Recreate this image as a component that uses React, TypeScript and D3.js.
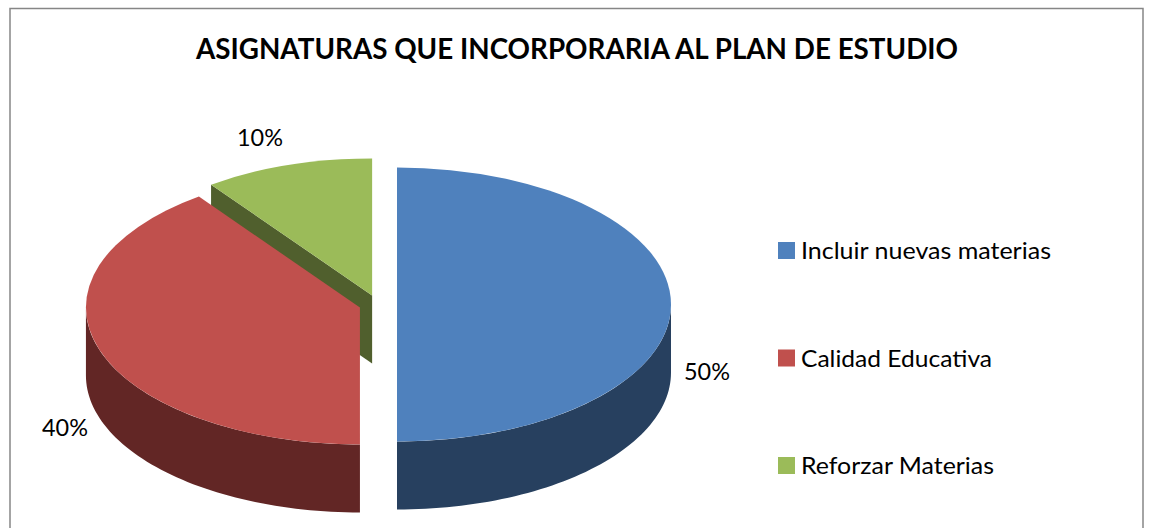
import React from "react";
import * as d3 from "d3";

const categories = ["Incluir nuevas materias", "Calidad Educativa", "Reforzar Materias"];
const values = [50, 40, 10];
const topColors = ["#4F81BD", "#C0504D", "#9BBB59"];
const sideColors = ["#27405F", "#622625", "#505F2D"];
const titleText = "ASIGNATURAS QUE INCORPORARIA AL PLAN DE ESTUDIO";

const W = 1151, H = 528;
const CX = 378, CY = 304.5, RX = 274, RY = 137, DEPTH = 68, EXPLODE = 19;
const FONT = "Lato, 'Open Sans', sans-serif";

const pie = d3.pie<number>().sort(null).value((d) => d);
const arcs = pie(values);
const arcGen = d3.arc<d3.PieArcDatum<number>>().innerRadius(0).outerRadius(RX);
const line = d3.line<[number, number]>();

const centre = (a: d3.PieArcDatum<number>): [number, number] => {
  const m = (a.startAngle + a.endAngle) / 2;
  return [CX + EXPLODE * Math.sin(m), CY - (EXPLODE * Math.cos(m) * RY) / RX];
};
const rim = (c: [number, number], t: number, dy = 0): [number, number] => [
  c[0] + RX * Math.sin(t),
  c[1] - RY * Math.cos(t) + dy,
];

// curved outer wall: only the part of the rim that faces the viewer
const wallPath = (a: d3.PieArcDatum<number>) => {
  const c = centre(a);
  const lo = Math.max(a.startAngle, Math.PI / 2);
  const hi = Math.min(a.endAngle, (3 * Math.PI) / 2);
  if (hi <= lo) return null;
  const ts = d3.range(0, 61).map((i) => lo + ((hi - lo) * i) / 60);
  const pts = [...ts.map((t) => rim(c, t)), ...ts.slice().reverse().map((t) => rim(c, t, DEPTH))];
  return line(pts) + "Z";
};

// flat cut face running from the apex to the rim at the slice's start angle
const cutPath = (a: d3.PieArcDatum<number>) => {
  const c = centre(a);
  const p = rim(c, a.startAngle);
  return line([c, p, [p[0], p[1] + DEPTH], [c[0], c[1] + DEPTH]]) + "Z";
};

const labelPos: [number, number][] = [[707, 380], [65, 436], [260, 146]];
const legendY = d3.scalePoint<string>().domain(categories).range([251, 466]);
const legendWidths = [250, 191, 193];

export default function App() {
  const order = [2, 1, 0];
  return (
    <svg width={W} height={H} style={{ position: "absolute", left: 0, top: 0, background: "#fff" }}>
      <path d="M10 528V8.5H1143V528" fill="none" stroke="#868686" strokeWidth={1.5} />
      <text x={577} y={59} textAnchor="middle" fontFamily={FONT} fontWeight={700} fontSize={28}
        textLength={762} lengthAdjust="spacingAndGlyphs" fill="#000">{titleText}</text>
      {order.map((i) => {
        const a = arcs[i];
        const c = centre(a);
        const wall = wallPath(a);
        return (
          <g key={categories[i]}>
            {i === 2 && <path d={cutPath(a)} fill={sideColors[i]} />}
            {wall && <path d={wall} fill={sideColors[i]} />}
            <path transform={`translate(${c[0]},${c[1]}) scale(1,${RY / RX})`} d={arcGen(a) as string} fill={topColors[i]} />
          </g>
        );
      })}
      {values.map((v, i) => (
        <text key={i} x={labelPos[i][0]} y={labelPos[i][1]} textAnchor="middle" fontFamily={FONT}
          fontSize={24} textLength={46} lengthAdjust="spacingAndGlyphs" fill="#000">{v}%</text>
      ))}
      {categories.map((cat, i) => (
        <g key={cat}>
          <rect x={778} y={(legendY(cat) as number) - 9} width={17} height={17} fill={topColors[i]} />
          <text x={801} y={(legendY(cat) as number) + 8} fontFamily={FONT} fontSize={24}
            textLength={legendWidths[i]} lengthAdjust="spacingAndGlyphs" fill="#000">{cat}</text>
        </g>
      ))}
    </svg>
  );
}
